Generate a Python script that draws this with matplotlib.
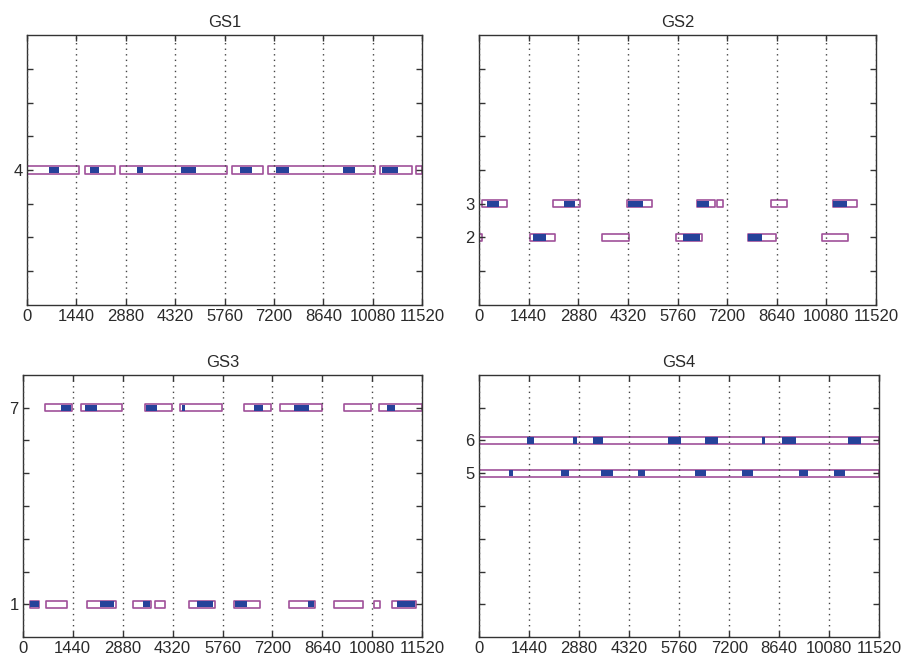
import matplotlib.pyplot as plt

plt.rcParams['font.family'] = ['Liberation Sans', 'DejaVu Sans']

# time axis (minutes), one gridline per day
x_max = 11520
day_ticks = [0, 1440, 2880, 4320, 5760, 7200, 8640, 10080, 11520]

# GS1 -- state 4
gs1_boxes = {4: [(0, 1530), (1710, 2570), (2720, 5840), (5980, 6890),
                 (7040, 10150), (10290, 11210), (11330, 11520)]}
gs1_active = {4: [(660, 950), (1840, 2110), (3220, 3380), (4500, 4930),
                  (6210, 6560), (7260, 7650), (9220, 9550), (10340, 10820)]}

# GS2 -- states 3 and 2
gs2_boxes = {3: [(100, 800), (2140, 2930), (4290, 5010), (6320, 6860),
                 (6920, 7090), (8470, 8950), (10280, 10960)],
             2: [(0, 90), (1480, 2210), (3580, 4360), (5720, 6480),
                 (7800, 8610), (9950, 10700)]}
gs2_active = {3: [(220, 590), (2480, 2790), (4330, 4770), (6320, 6680),
                  (10280, 10670)],
              2: [(1580, 1940), (5930, 6410), (7820, 8200)]}

# GS3 -- states 7 and 1
gs3_boxes = {7: [(650, 1410), (1680, 2850), (3540, 4300), (4540, 5740),
                 (6380, 7150), (7420, 8620), (9260, 10030), (10280, 11500)],
             1: [(210, 480), (670, 1270), (1860, 2680), (3170, 3700),
                 (3820, 4110), (4800, 5550), (6090, 6840), (7690, 8430),
                 (8980, 9820), (10140, 10300), (10640, 11340)]}
gs3_active = {7: [(1100, 1390), (1800, 2130), (3560, 3880), (4580, 4680),
                  (6680, 6940), (7820, 8260), (10490, 10730)],
              1: [(210, 480), (2230, 2640), (3480, 3670), (5020, 5500),
                  (6110, 6460), (8230, 8410), (10780, 11310)]}

# GS4 -- states 6 and 5, on for the whole period
gs4_boxes = {6: [(0, 11520)], 5: [(0, 11520)]}
gs4_active = {6: [(1390, 1570), (2700, 2830), (3270, 3560), (5430, 5810),
                  (6510, 6890), (8130, 8230), (8720, 9120), (10620, 11000)],
              5: [(860, 990), (2350, 2600), (3510, 3850), (4570, 4790),
                  (6230, 6540), (7580, 7880), (9200, 9460), (10230, 10540)]}

panels = [
    ('GS1', gs1_boxes, gs1_active, [26.7, 35, 422.3, 305]),
    ('GS2', gs2_boxes, gs2_active, [479, 35, 876, 305]),
    ('GS3', gs3_boxes, gs3_active, [22.7, 375, 422.3, 637]),
    ('GS4', gs4_boxes, gs4_active, [479, 375, 879.3, 637]),
]

W, H = 902, 664
box_color = '#a0509a'
fill_color = '#26429a'
ink = '#2a2a2a'

fig = plt.figure(figsize=(W / 100, H / 100), dpi=100)

for title, boxes, active, (x0, y0, x1, y1) in panels:
    ax = fig.add_axes([x0 / W, 1 - y1 / H, (x1 - x0) / W, (y1 - y0) / H])
    for state, spans in boxes.items():
        ax.broken_barh([(a, b - a) for a, b in spans], (state - 0.11, 0.22),
                       facecolors='white', edgecolors=box_color,
                       linewidth=1.2, zorder=2)
    for state, spans in active.items():
        ax.broken_barh([(a, b - a) for a, b in spans], (state - 0.095, 0.19),
                       facecolors=fill_color, edgecolors='none', zorder=3)

    ax.set_xlim(0, x_max)
    ax.set_ylim(0, 8)
    ax.set_xticks(day_ticks)
    ax.set_yticks(range(1, 8))
    ax.set_yticklabels([str(v) if v in boxes else '' for v in range(1, 8)])
    ax.grid(axis='x', linestyle=(0, (1, 3)), color='#444444', linewidth=1.0,
            zorder=4)
    ax.set_axisbelow(False)
    ax.tick_params(direction='in', length=4, width=1, top=True, right=True,
                   labelsize=12, color='#333333', labelcolor=ink, pad=3)
    for sp in ax.spines.values():
        sp.set_color('#333333')
        sp.set_linewidth(1.0)
    ax.set_title(title, fontsize=12, pad=6, color=ink)

fig.savefig('out.png', dpi=100)
